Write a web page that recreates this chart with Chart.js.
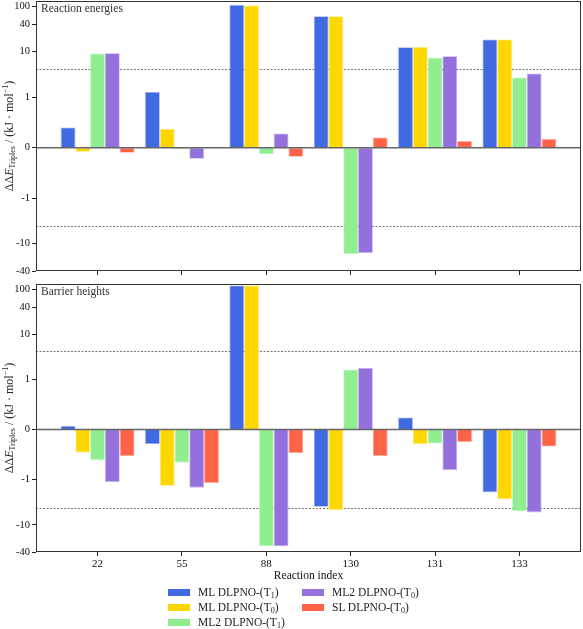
<!DOCTYPE html>
<html lang="en">
<head>
<meta charset="UTF-8">
<title>Triples corrections</title>
<script src="https://cdn.jsdelivr.net/npm/chart.js"></script>
<style>
  body { margin: 0; background: #fff; }
  #wrap { position: relative; width: 583px; height: 629px; font-family: "Liberation Serif", serif; color: #222; }
  .panel { position: absolute; left: 0; width: 583px; }
  .item { position: absolute; font-size: 11.5px; line-height: 14px; white-space: nowrap; }
  .sw { position: absolute; left: 0; top: 4px; width: 22px; height: 7px; }
  .txt { position: absolute; left: 30px; top: 0; }
  sub { font-size: 8px; vertical-align: -2px; line-height: 0; }
</style>
</head>
<body>
<div id="wrap">
  <div class="panel" style="top:0;height:285px"><canvas id="energies"></canvas></div>
  <div class="panel" style="top:280px;height:306px"><canvas id="barriers"></canvas></div>
  <div id="legend"></div>
</div>

<script>
const categories = ['22', '55', '88', '130', '131', '133'];

const seriesMethods = ['ML DLPNO', 'ML DLPNO', 'ML2 DLPNO', 'ML2 DLPNO', 'SL DLPNO'];
const seriesTriples = ['1', '0', '1', '0', '0'];
const seriesColors = ['#4169E1', '#FFD700', '#90EE90', '#9370DB', '#FF6347'];

// reaction energies (kJ/mol)
const reMlT1  = [0.40, 1.29, 106, 60, 12.5, 18.5];
const reMlT0  = [-0.08, 0.37, 104, 60, 12.7, 18.5];
const reMl2T1 = [9.1, -0.03, -0.13, -16.9, 7.4, 2.7];
const reMl2T0 = [9.2, -0.22, 0.28, -16.0, 7.9, 3.3];
const reSlT0  = [-0.10, 0.01, -0.18, 0.20, 0.13, 0.17];

// barrier heights (kJ/mol)
const bhMlT1  = [0.07, -0.29, 120, -4.0, 0.24, -1.9];
const bhMlT0  = [-0.46, -1.37, 120, -4.7, -0.29, -2.7];
const bhMl2T1 = [-0.61, -0.66, -30, 1.66, -0.28, -5.0];
const bhMl2T0 = [-1.12, -1.5, -30, 1.8, -0.81, -5.3];
const bhSlT0  = [-0.53, -1.18, -0.47, -0.53, -0.25, -0.34];

const yTickValues = [100, 40, 10, 1, 0, -1, -10, -40];
const chemAccuracy = 4.184; // 1 kcal/mol
const FONT = '"Liberation Serif", serif';

// symlog like matplotlib: linthresh 1, linscale 1, base 10
const LINSCALE = 1 / (1 - 1 / 10);
function symlog(v) {
    const a = Math.abs(v);
    if (a <= 1) return v * LINSCALE;
    return Math.sign(v) * (LINSCALE + Math.log10(a));
}
function symexp(t) {
    const a = Math.abs(t);
    if (a <= LINSCALE) return t / LINSCALE;
    return Math.sign(t) * Math.pow(10, a - LINSCALE);
}

class SymlogScale extends Chart.LinearScale {
    determineDataLimits() {
        this.min = this.options.min;
        this.max = this.options.max;
    }
    buildTicks() {
        return yTickValues.map(v => ({ value: v }));
    }
    configure() {
        super.configure();
        this._tlo = symlog(this.min);
        this._thi = symlog(this.max);
    }
    getPixelForValue(v) {
        return this.getPixelForDecimal((symlog(v) - this._tlo) / (this._thi - this._tlo));
    }
    getValueForPixel(p) {
        return symexp(this._tlo + this.getDecimalForPixel(p) * (this._thi - this._tlo));
    }
}
SymlogScale.id = 'symlog';
SymlogScale.defaults = {};
Chart.register(SymlogScale);

function lighten(hex) {
    const n = parseInt(hex.slice(1), 16);
    const r = (n >> 16) & 255, g = (n >> 8) & 255, b = n & 255;
    return `rgba(${r},${g},${b},0.55)`;
}

function drawYLabel(ctx, x, y) {
    const parts = [
        { t: 'ΔΔ', f: `12px ${FONT}`, dy: 0 },
        { t: 'E', f: `italic 12px ${FONT}`, dy: 0 },
        { t: 'Triples', f: `8px ${FONT}`, dy: 2.5 },
        { t: ' / (kJ · mol', f: `12px ${FONT}`, dy: 0 },
        { t: '−1', f: `8px ${FONT}`, dy: -4.5 },
        { t: ')', f: `12px ${FONT}`, dy: 0 }
    ];
    ctx.save();
    ctx.translate(x, y);
    ctx.rotate(-Math.PI / 2);
    ctx.fillStyle = '#222';
    ctx.textBaseline = 'middle';
    let total = 0;
    parts.forEach(p => { ctx.font = p.f; p.w = ctx.measureText(p.t).width; total += p.w; });
    let cx = -total / 2;
    parts.forEach(p => {
        ctx.font = p.f;
        ctx.fillText(p.t, cx, p.dy);
        cx += p.w;
    });
    ctx.restore();
}

const panelDecor = {
    id: 'panelDecor',
    beforeDatasetsDraw(chart) {
        const { ctx, chartArea: a, scales: { y } } = chart;
        ctx.save();
        ctx.strokeStyle = '#777';
        ctx.lineWidth = 1;
        ctx.setLineDash([2, 1.5]);
        [chemAccuracy, -chemAccuracy].forEach(v => {
            const py = Math.round(y.getPixelForValue(v)) + 0.5;
            ctx.beginPath();
            ctx.moveTo(a.left, py);
            ctx.lineTo(a.right, py);
            ctx.stroke();
        });
        ctx.restore();
    },
    afterDatasetsDraw(chart, args, opts) {
        const { ctx, chartArea: a, scales: { y } } = chart;
        ctx.save();
        const py0 = y.getPixelForValue(0);
        ctx.strokeStyle = '#666';
        ctx.lineWidth = 1.5;
        ctx.beginPath();
        ctx.moveTo(a.left, py0);
        ctx.lineTo(a.right, py0);
        ctx.stroke();

        ctx.strokeStyle = '#333';
        ctx.lineWidth = 1;
        ctx.strokeRect(a.left + 0.5, a.top + 0.5, a.right - a.left - 1, a.bottom - a.top - 1);

        ctx.fillStyle = '#333';
        ctx.font = `11.5px ${FONT}`;
        ctx.textBaseline = 'middle';
        ctx.fillText(opts.title, a.left + 5, a.top + 8);

        drawYLabel(ctx, 10, (a.top + a.bottom) / 2);
        ctx.restore();
    }
};

function makeChart(id, values, title, showX, padTop, padBottom, xHeight) {
    const datasets = values.map((vals, k) => ({
        label: `${seriesMethods[k]}-(T${seriesTriples[k]})`,
        data: vals.map((v, i) => ({ x: i, y: v })),
        backgroundColor: seriesColors[k],
        borderColor: lighten(seriesColors[k]),
        borderWidth: 0.8
    }));
    return new Chart(document.getElementById(id), {
        type: 'bar',
        data: { datasets },
        plugins: [panelDecor],
        options: {
            responsive: true,
            maintainAspectRatio: false,
            animation: false,
            layout: { padding: { top: padTop, bottom: padBottom, left: 0, right: 2 } },
            categoryPercentage: 0.875,
            barPercentage: 1,
            plugins: {
                legend: { display: false },
                tooltip: { enabled: false },
                panelDecor: { title }
            },
            scales: {
                x: {
                    type: 'linear',
                    min: -0.73,
                    max: 5.73,
                    offset: false,
                    afterBuildTicks: s => { s.ticks = categories.map((c, i) => ({ value: i })); },
                    afterFit: s => { s.height = xHeight; s.paddingLeft = 0; s.paddingRight = 0; },
                    grid: { offset: false, drawOnChartArea: false, drawTicks: true, tickLength: 4, color: '#222' },
                    border: { display: false },
                    ticks: {
                        display: showX,
                        autoSkip: false,
                        maxRotation: 0,
                        padding: 2,
                        color: '#111',
                        font: { family: FONT, size: 11 },
                        callback: v => categories[Math.round(v)]
                    },
                    title: {
                        display: showX,
                        text: 'Reaction index',
                        color: '#111',
                        padding: 0,
                        font: { family: FONT, size: 11.5 }
                    }
                },
                y: {
                    type: 'symlog',
                    min: -40,
                    max: 130,
                    afterFit: s => { s.width = 36; s.paddingTop = 0; s.paddingBottom = 0; },
                    grid: { drawOnChartArea: false, drawTicks: true, tickLength: 4, color: '#222' },
                    border: { display: false },
                    ticks: {
                        autoSkip: false,
                        padding: 2,
                        color: '#111',
                        font: { family: FONT, size: 10.5 },
                        callback: v => String(v)
                    }
                }
            }
        }
    });
}

makeChart('energies', [reMlT1, reMlT0, reMl2T1, reMl2T0, reSlT0], 'Reaction energies', false, 1, 8, 6);
makeChart('barriers', [bhMlT1, bhMlT0, bhMl2T1, bhMl2T0, bhSlT0], 'Barrier heights', true, 4, 3, 31);

// legend, column-major like the original
const legend = document.getElementById('legend');
seriesMethods.forEach((m, k) => {
    const col = Math.floor(k / 3), row = k % 3;
    const item = document.createElement('div');
    item.className = 'item';
    item.style.left = (col ? 302 : 168) + 'px';
    item.style.top = (585 + row * 15) + 'px';
    item.innerHTML = `<span class="sw" style="background:${seriesColors[k]}"></span>` +
        `<span class="txt">${m}-(T<sub>${seriesTriples[k]}</sub>)</span>`;
    legend.appendChild(item);
});
</script>
</body>
</html>
